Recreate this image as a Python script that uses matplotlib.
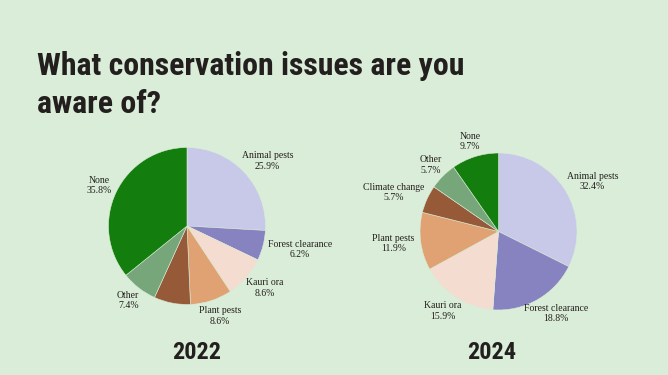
import numpy as np
import matplotlib
matplotlib.use("Agg")
import matplotlib.pyplot as plt
from matplotlib import font_manager

# Data
categories = ["Animal pests", "Forest clearance", "Kauri ora", "Plant pests",
              "Climate change", "Other", "None"]
values_2022 = [25.9, 6.2, 8.6, 8.6, 7.5, 7.4, 35.8]
values_2024 = [32.4, 18.8, 15.9, 11.9, 5.7, 5.7, 9.7]
hidden_2022 = ["Climate change"]   # label not shown in the reference
hidden_2024 = []
years = ["2022", "2024"]

colors = ["#c8c8e8", "#8782c0", "#f5dcd0", "#e0a272", "#965a38", "#76a67a", "#137d0e"]
bg = "#d9edd8"
ink = "#231f1e"

W, H = 668, 375
R = 78.5   # pie radius in pixels
L = 1.6    # axes half-range in radius units

available = {f.name for f in font_manager.fontManager.ttflist}
head_font = next((f for f in ["Roboto Condensed", "Liberation Sans Narrow", "Roboto"]
                  if f in available), "DejaVu Sans")

fig = plt.figure(figsize=(W / 100, H / 100), dpi=100)
fig.patch.set_facecolor(bg)
renderer = fig.canvas.get_renderer()


def draw_pie(cx, cy, values, hidden):
    ax = fig.add_axes([(cx - L * R) / W, 1 - (cy + L * R) / H, 2 * L * R / W, 2 * L * R / H])
    wedges, _ = ax.pie(values, startangle=90, counterclock=False, colors=colors,
                       radius=1, wedgeprops=dict(linewidth=0.4, edgecolor=bg))
    ax.set_xlim(-L, L)
    ax.set_ylim(-L, L)
    ax.axis("off")
    for w, name, v in zip(wedges, categories, values):
        if name in hidden:
            continue
        mid = np.deg2rad((w.theta1 + w.theta2) / 2)
        c, s = np.cos(mid), np.sin(mid)
        t = ax.text(1.08 * c, 1.08 * s, f"{name}\n{v:.1f}%", ha="center", va="center",
                    multialignment="center", fontsize=7, family="Liberation Serif",
                    color=ink, linespacing=1.2)
        bb = t.get_window_extent(renderer)
        t.set_position((1.08 * c + bb.width / 2 * c / R, 1.08 * s + bb.height / 2 * s / R))
    return ax


draw_pie(187, 226, values_2022, hidden_2022)
draw_pie(498.5, 231.5, values_2024, hidden_2024)

# Title, sized to the reference width
t1 = fig.text(37 / W, 1 - 75 / H, "What conservation issues are you", ha="left",
              va="baseline", fontsize=30, fontweight="bold", family=head_font, color=ink)
size = 30 * 428 / t1.get_window_extent(renderer).width
t1.set_fontsize(size)
fig.text(37 / W, 1 - 113 / H, "aware of?", ha="left", va="baseline",
         fontsize=size, fontweight="bold", family=head_font, color=ink)

# Year labels
for x, yr in zip([197, 492], years):
    fig.text(x / W, 1 - 359 / H, yr, ha="center", va="baseline", fontsize=17.5,
             fontweight="bold", family=head_font, color=ink)

fig.savefig("out.png", dpi=100, facecolor=bg)
